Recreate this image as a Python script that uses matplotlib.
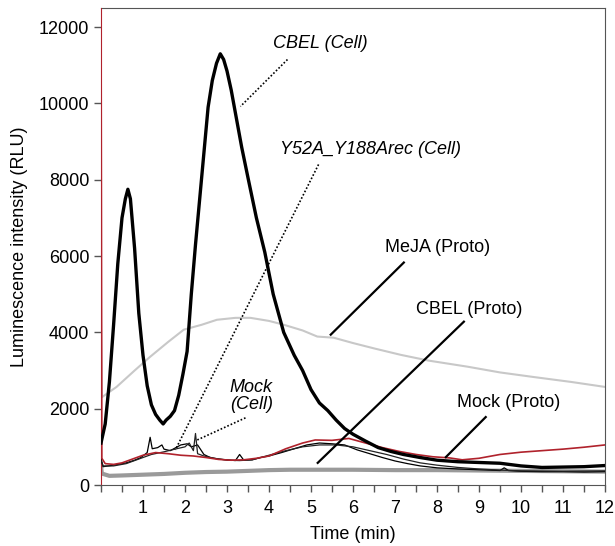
import matplotlib
matplotlib.use("Agg")
import matplotlib.pyplot as plt
from matplotlib.ticker import MultipleLocator, FixedLocator

plt.rcParams['font.family'] = ['Liberation Sans', 'DejaVu Sans']

# CBEL (Cell) - thick black
cbel_cell_t = [0, 0.1, 0.2, 0.3, 0.4, 0.5, 0.58, 0.64, 0.7, 0.8, 0.9, 1.0, 1.1, 1.2, 1.3, 1.4,
               1.48, 1.55, 1.65, 1.75, 1.85, 1.95, 2.05, 2.15, 2.25, 2.35, 2.45, 2.55, 2.65, 2.75,
               2.84, 2.92, 3.0, 3.1, 3.2, 3.35, 3.5, 3.7, 3.9, 4.1, 4.35, 4.6, 4.8, 5.0, 5.2, 5.4,
               5.6, 5.8, 6.0, 6.3, 6.6, 6.9, 7.2, 7.6, 8.0, 8.5, 9.0, 9.5, 10.0, 10.5, 11.0, 11.5, 12.0]
cbel_cell_v = [1100, 1600, 2700, 4200, 5800, 7000, 7500, 7750, 7500, 6200, 4500, 3400, 2600, 2100, 1850, 1700,
               1600, 1700, 1800, 1950, 2350, 2900, 3500, 5000, 6300, 7500, 8700, 9900, 10600, 11050,
               11300, 11150, 10850, 10350, 9750, 8850, 8050, 7000, 6100, 5000, 4000, 3400, 3000, 2500, 2150, 1950,
               1700, 1480, 1330, 1150, 980, 880, 800, 720, 650, 610, 590, 570, 500, 460, 470, 480, 510]

# Y52A_Y188Arec (Cell) - thin black
y52a_t = [0, 0.05, 0.3, 0.6, 0.8, 0.95, 1.1, 1.17, 1.22, 1.35, 1.45, 1.5, 1.65, 1.75, 1.85, 1.9, 2.05,
          2.15, 2.3, 2.45, 2.6, 2.8, 3.0, 3.2, 3.3, 3.4, 3.6, 3.8, 4.0, 4.3, 4.6, 4.9, 5.2, 5.5, 5.8,
          6.1, 6.4, 6.7, 7.0, 7.3, 7.6, 8.0, 8.5, 9.0, 9.5, 9.6, 9.7, 10.0, 10.5, 11.0, 11.5, 12.0]
y52a_v = [700, 480, 520, 580, 650, 720, 850, 1250, 950, 980, 1050, 940, 900, 960, 1020, 1050, 1080,
          1000, 1050, 800, 720, 680, 660, 640, 800, 650, 660, 720, 760, 850, 950, 1050, 1100, 1080, 1050,
          920, 820, 720, 630, 560, 500, 450, 420, 400, 380, 450, 380, 360, 350, 350, 340, 350]

# Mock (Cell) - thin black
mock_cell_t = [0, 0.05, 0.3, 0.6, 0.9, 1.2, 1.5, 1.8, 2.0, 2.1, 2.2, 2.25, 2.3, 2.45, 2.7, 3.0, 3.3,
               3.6, 4.0, 4.4, 4.8, 5.2, 5.6, 6.0, 6.4, 6.8, 7.2, 7.6, 8.0, 8.5, 9.0, 9.5, 10.0, 11.0, 12.0]
mock_cell_v = [650, 500, 500, 560, 680, 800, 870, 950, 1000, 1100, 900, 1350, 820, 760, 700, 650, 640,
               660, 780, 900, 1000, 1050, 1050, 1000, 900, 800, 680, 580, 520, 460, 420, 390, 370, 360, 370]

# Mock (Proto) - red
mock_proto_t = [0, 0.02, 0.1, 0.3, 0.5, 0.8, 1.0, 1.3, 1.6, 1.9, 2.2, 2.5, 2.8, 3.1, 3.4, 3.7, 4.0,
                4.4, 4.8, 5.1, 5.5, 5.9, 6.3, 6.7, 7.1, 7.5, 7.9, 8.3, 8.6, 9.0, 9.5, 10.0, 10.5, 11.0, 11.5, 12.0]
mock_proto_v = [13000, 700, 560, 540, 580, 700, 780, 850, 820, 780, 760, 720, 670, 650, 660, 700, 760,
                950, 1100, 1180, 1170, 1220, 1100, 980, 880, 800, 740, 710, 660, 700, 800, 860, 900, 940, 990, 1050]

# CBEL (Proto) - medium grey
cbel_proto_t = [0, 0.02, 0.2, 0.5, 1.0, 1.5, 2.0, 2.5, 3.0, 3.5, 4.0, 4.5, 5.0, 6.0, 7.0, 8.0, 9.0, 10.0, 11.0, 12.0]
cbel_proto_v = [500, 300, 240, 250, 270, 290, 320, 340, 350, 370, 390, 400, 400, 400, 390, 390, 380, 370, 360, 350]

# MeJA (Proto) - light grey
meja_t = [0, 0.02, 0.37, 0.8, 1.17, 1.6, 1.97, 2.4, 2.76, 3.2, 3.56, 4.0, 4.35, 4.8, 5.15, 5.54, 6.0,
          6.5, 7.14, 7.8, 8.73, 9.5, 10.3, 11.2, 12.0]
meja_v = [4300, 2300, 2570, 3000, 3360, 3750, 4070, 4200, 4330, 4380, 4380, 4300, 4200, 4050, 3890, 3860, 3720,
          3580, 3410, 3260, 3100, 2950, 2830, 2700, 2570]

# labels: (text, text pos, pointer start, pointer end, italic, dotted)
labels = [
    ("CBEL (Cell)", (5.23, 11560), (4.44, 11150), (3.32, 9920), True, True),
    ("Y52A_Y188Arec (Cell)", (6.42, 8800), (5.18, 8400), (1.77, 920), True, True),
    ("Mock\n(Cell)", (3.58, 2340), (3.44, 1760), (2.29, 1180), True, True),
    ("MeJA (Proto)", (8.02, 6230), (7.21, 5830), (5.47, 3940), False, False),
    ("CBEL (Proto)", (8.76, 4600), (8.64, 4280), (5.16, 580), False, False),
    ("Mock (Proto)", (9.71, 2150), (9.16, 1780), (8.21, 730), False, False),
]

fig = plt.figure(figsize=(6.15, 5.46), dpi=100)
ax = fig.add_axes([101/615, 1 - 485/546, 504/615, 477/546])

ax.plot(meja_t, meja_v, color='#c8c8c8', lw=1.5, zorder=2)
ax.plot(cbel_proto_t, cbel_proto_v, color='#9a9a9a', lw=3, zorder=2)
ax.plot(y52a_t, y52a_v, color='black', lw=0.9, zorder=3)
ax.plot(mock_cell_t, mock_cell_v, color='#222222', lw=0.9, zorder=3)
ax.plot(mock_proto_t, mock_proto_v, color='#b0222c', lw=1.2, zorder=4)
ax.plot(cbel_cell_t, cbel_cell_v, color='black', lw=2.4, zorder=5)

for txt, tpos, p0, p1, ital, dotted in labels:
    ax.text(tpos[0], tpos[1], txt, ha='center', va='center', fontsize=13,
            style='italic' if ital else 'normal', linespacing=1.0)
    ax.plot([p0[0], p1[0]], [p0[1], p1[1]], color='black',
            ls=(0, (1, 1.2)) if dotted else '-', lw=1.2 if dotted else 1.6, zorder=6)

ax.set_xlim(0, 12)
ax.set_ylim(0, 12500)
ax.xaxis.set_major_locator(FixedLocator(list(range(1, 13))))
ax.xaxis.set_minor_locator(MultipleLocator(0.5))
ax.yaxis.set_major_locator(FixedLocator([0, 2000, 4000, 6000, 8000, 10000, 12000]))
ax.tick_params(axis='both', which='both', direction='out', length=5, width=1, colors='#555555',
               labelcolor='black', labelsize=13)
ax.tick_params(axis='x', which='major', pad=6)

for s in ['top', 'right', 'bottom']:
    ax.spines[s].set_color('#555555')
ax.spines['left'].set_color('#b0222c')

ax.set_xlabel('Time (min)', fontsize=13, labelpad=6)
ax.set_ylabel('Luminescence intensity (RLU)', fontsize=13, labelpad=8)

fig.savefig('out.png', dpi=100)
